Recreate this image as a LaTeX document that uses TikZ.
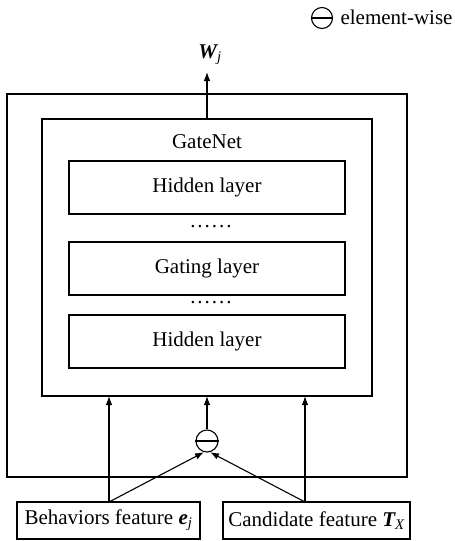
\documentclass[tikz,border=0pt]{standalone}
\usepackage{fontspec}
\setmainfont{Liberation Serif}
\usetikzlibrary{arrows.meta}
\newcommand{\bivar}[2]{{\bfseries\itshape #1}\textsubscript{\itshape #2}}
\begin{document}
\begin{tikzpicture}[x=1pt,y=-1pt,
  box/.style={draw, line width=1.1pt, inner sep=0pt},
  lay/.style={draw, line width=1.1pt, minimum width=276pt, minimum height=53pt, font=\fontsize{21}{24}\selectfont},
  feat/.style={draw, line width=1.1pt, minimum height=37pt, inner sep=0pt, font=\fontsize{21}{24}\selectfont},
  arr/.style={line width=1.1pt, -{Latex[length=9pt,width=6.5pt]}},
  txt/.style={font=\fontsize{21}{24}\selectfont}]
\useasboundingbox (0,0) rectangle (455,541);
% outer box
\draw[box] (7,94) rectangle (407,477);
\coordinate (innerTL) at (42,119);
\coordinate (innerBR) at (372,396);
\draw[box] (innerTL) rectangle (innerBR);
\coordinate (gtop) at (207,119);
\coordinate (gbotL) at (109,396);
\coordinate (gbotM) at (207,396);
\coordinate (gbotR) at (305,396);
\node[txt] (gn) at (207,142) {GateNet};
\node[lay] (h1) at (207,187.5) {Hidden layer};
\node[txt] (d1) at (211,227) {.\kern2pt.\kern2pt.\kern2pt.\kern2pt.\kern2pt.};
\node[lay] (g) at (207,268.5) {Gating layer};
\node[txt] (d2) at (211,303) {.\kern2pt.\kern2pt.\kern2pt.\kern2pt.\kern2pt.};
\node[lay] (h2) at (207,341.5) {Hidden layer};
% output
\coordinate (wtip) at (207,72);
\draw[arr] (gtop) -- (wtip);
\node[txt] (w) at (210,55) {\bivar{W}{j}};
% circle op
\node[draw, circle, line width=1.1pt, minimum size=22pt, inner sep=0pt] (op) at (207,441) {};
\draw[line width=1.1pt] (op.west) -- (op.east);
\draw[arr] (op) -- (gbotM);
% features
\node[feat, minimum width=183pt] (be) at (108.5,520.5) {Behaviors feature \bivar{e}{j}};
\node[feat, minimum width=187pt] (ca) at (316.5,520.5) {Candidate feature \bivar{T}{X}};
\coordinate (bs) at (109,502);
\coordinate (cs) at (305,502);
\draw[arr] (bs) -- (gbotL);
\draw[arr] (cs) -- (gbotR);
\draw[arr] (bs) -- (op.-105);
\draw[arr] (cs) -- (op.-75);
% legend
\node[draw, circle, line width=1.1pt, minimum size=21pt, inner sep=0pt] (lg) at (322,18) {};
\draw[line width=1.1pt] (lg.west) -- (lg.east);
\node[txt, anchor=west] (lt) at (337,17) {element-wise};
\end{tikzpicture}
\end{document}
